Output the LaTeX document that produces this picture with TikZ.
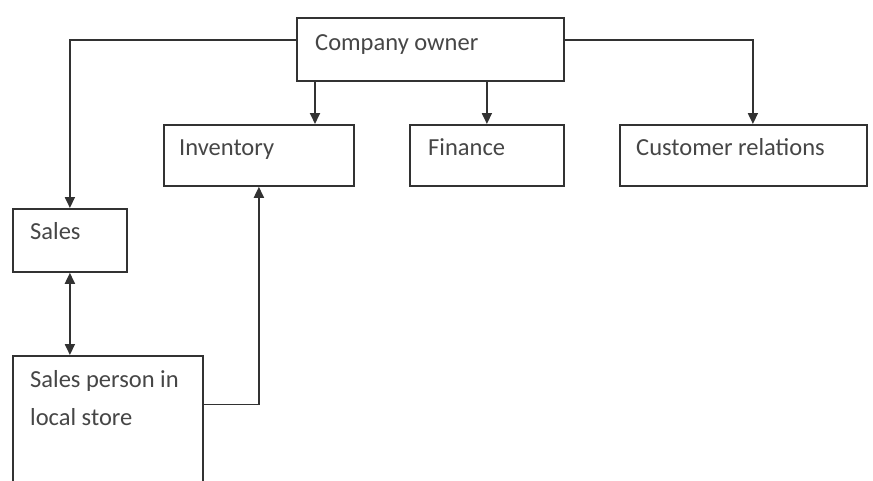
\documentclass[tikz,border=0pt]{standalone}
\usepackage{fontspec}
\setmainfont{Carlito}
\usepackage{tikz}
\usetikzlibrary{arrows.meta}
\definecolor{linegray}{RGB}{50,50,50}
\definecolor{textgray}{RGB}{70,70,70}
\tikzset{
    box/.style={draw=linegray,line width=1.8pt,anchor=north west,inner sep=0pt},
    txt/.style={anchor=base west,inner sep=0pt,align=flush left,text=textgray,
                font=\fontsize{24.5}{38}\selectfont},
    conn/.style={draw=linegray,line width=1.8pt,-{Triangle[length=11pt,width=10pt]}},
    both/.style={draw=linegray,line width=1.8pt,{Triangle[length=11pt,width=10pt]}-{Triangle[length=11pt,width=10pt]}}
}

\begin{document}
\begin{tikzpicture}[x=1pt,y=-1pt]
    \useasboundingbox[fill=white] (0,0) rectangle (873,480);
    % boxes
    \node[box,minimum width=267pt,minimum height=63pt] (owner) at (296,17) {};
    \node[box,minimum width=190pt,minimum height=61pt] (inv) at (163,124) {};
    \node[box,minimum width=154pt,minimum height=61pt] (fin) at (409,124) {};
    \node[box,minimum width=247pt,minimum height=61pt] (cust) at (619,124) {};
    \node[box,minimum width=114pt,minimum height=63pt] (sales) at (12,208) {};
    \node[box,minimum width=190pt,minimum height=135pt] (sperson) at (12,355) {};
    % texts
    \node[txt] (owner-t) at ([shift={(19pt,-33pt)}]owner.north west) {Company owner};
    \node[txt] (inv-t) at ([shift={(16pt,-31pt)}]inv.north west) {Inventory};
    \node[txt] (fin-t) at ([shift={(19pt,-31pt)}]fin.north west) {Finance};
    \node[txt] (cust-t) at ([shift={(17pt,-31pt)}]cust.north west) {Customer relations};
    \node[txt] (sales-t) at ([shift={(18pt,-31pt)}]sales.north west) {Sales};
    \node[txt,text width=175pt] (sperson-t) at ([shift={(18pt,-32pt)}]sperson.north west) {Sales person in\\local store};
    % connectors
    \draw[conn] ([yshift=9.5pt]owner.west) -| (sales.north);
    \draw[conn] ([yshift=9.5pt]owner.east) -| ([xshift=9.5pt]cust.north);
    \draw[conn] ([xshift=19pt]owner.south west) -- ([xshift=19pt]owner.south west |- inv.north);
    \draw[conn] (fin.north |- owner.south) -- (fin.north);
    \draw[both] (sales.south) -- (sales.south |- sperson.north);
    \draw[conn] ([yshift=19pt]sperson.east) -| (inv.south);
\end{tikzpicture}
\end{document}
